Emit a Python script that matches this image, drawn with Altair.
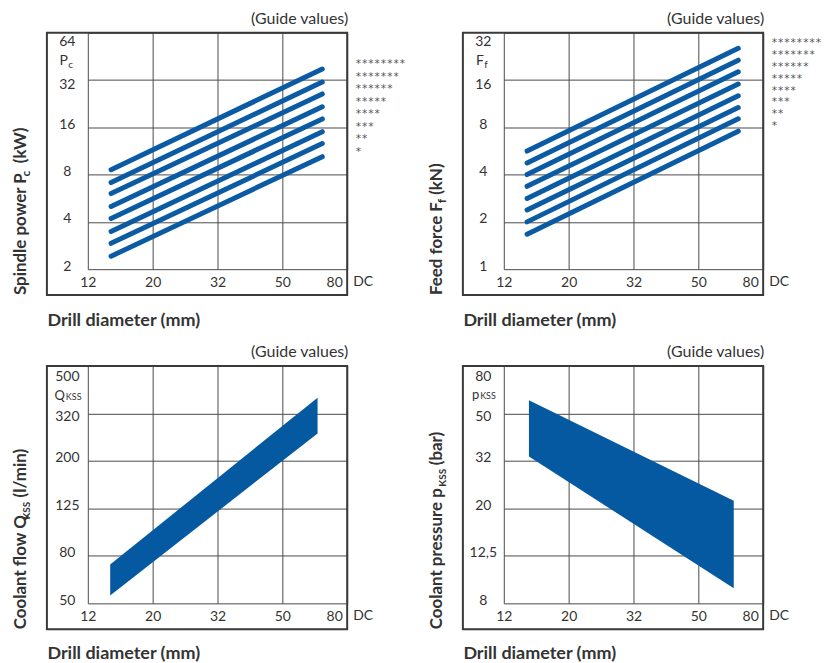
import json
import altair as alt
import pandas as pd

FONT = "Lato"
TXT = "#333333"
GRID = "#4a4a4a"
BOX = "#3a3a3a"
BLUE = "#0a5ba4"
STAR_COLOR = "#555555"

# ---------------- data ----------------
dia_ticks = [12.5, 20, 32, 51.2, 81.92]
dia_labels = ["12", "20", "32", "50", "80"]
stars = ["********", "*******", "******", "*****", "****", "***", "**", "*"]

line_dia = [14.8, 68.4]

power_ticks = [2, 4, 8, 16, 32, 64]
power_labels = ["2", "4", "8", "16", "32", "64"]
power_start = [8.6, 7.12, 6.06, 5.01, 4.21, 3.48, 2.92, 2.42]
power_end = [37.6, 31.1, 26.1, 21.6, 18.1, 15.0, 12.6, 10.4]

feed_ticks = [1, 2, 4, 8, 16, 32]
feed_labels = ["1", "2", "4", "8", "16", "32"]
feed_start = [5.65, 4.74, 4.0, 3.37, 2.82, 2.38, 2.0, 1.67]
feed_end = [25.5, 21.4, 18.06, 15.1, 12.7, 10.7, 9.06, 7.56]

flow_ticks = [50, 80, 128, 204.8, 327.68, 524.288]
flow_labels = ["50", "80", "125", "200", "320", "500"]
flow_dia = [14.7, 66.1]
flow_upper = [73.4, 383.0]
flow_lower = [54.1, 268.6]

press_ticks = [8, 12.8, 20.48, 32.768, 52.4288, 83.88608]
press_labels = ["8", "12,5", "20", "32", "50", "80"]
press_dia = [15.0, 66.2]
press_upper = [59.7, 22.1]
press_lower = [34.2, 9.3]

W = 260


def expr_labels(ticks, labels):
    return f"{json.dumps(labels)}[indexof({json.dumps(ticks)}, datum.value)]"


def x_scale():
    return alt.Scale(type="log", domain=[dia_ticks[0], dia_ticks[-1]], nice=False)


def x_enc(field, H):
    return alt.X(
        f"{field}:Q",
        scale=x_scale(),
        axis=alt.Axis(
            values=dia_ticks,
            labelExpr=expr_labels(dia_ticks, dia_labels),
            grid=True, gridColor=GRID, gridWidth=1, gridOpacity=1,
            ticks=False, tickSize=0, domain=False,
            labelPadding=13, labelBaseline="middle", labelAlign="center",
            labelFont=FONT, labelFontSize=14, labelColor=TXT,
            labelFlush=False, labelOverlap=False,
            labelOffset={"condition": {"test": f"datum.value == {dia_ticks[-1]}", "value": -13}, "value": 0},
            title="Drill diameter (mm)", titleFont=FONT, titleFontSize=18,
            titleFontWeight="bold", titleColor=TXT, titleAnchor="start",
            titleAlign="left", titleBaseline="alphabetic",
            titleX=-41, titleY=293 - H, titleAngle=0,
        ),
    )


def y_scale(ticks):
    return alt.Scale(type="log", domain=[ticks[0], ticks[-1]], nice=False)


def y_enc(field, ticks, labels, off1, off2):
    return alt.Y(
        f"{field}:Q",
        scale=y_scale(ticks),
        axis=alt.Axis(
            values=ticks,
            labelExpr=expr_labels(ticks, labels),
            grid=True, gridColor=GRID, gridWidth=1, gridOpacity=1,
            ticks=False, tickSize=0, domain=False,
            labelPadding=21, labelAlign="center", labelBaseline="middle",
            labelFont=FONT, labelFontSize=14, labelColor=TXT,
            labelFlush=False, labelOverlap=False,
            labelOffset={"condition": [
                {"test": f"datum.value == {ticks[-1]}", "value": off1},
                {"test": f"datum.value == {ticks[-2]}", "value": off2},
            ], "value": -3},
            title=None,
        ),
    )


def note(text, x, y, size=14, weight="normal", align="left", baseline="alphabetic",
         angle=0, font=FONT, color=TXT):
    return alt.Chart(pd.DataFrame({"t": [text]})).mark_text(
        align=align, baseline=baseline, angle=angle, font=font,
        fontSize=size, fontWeight=weight, color=color,
    ).encode(x=alt.value(x), y=alt.value(y), text="t:N")


def frame(H):
    return alt.Chart(pd.DataFrame({"a": [0]})).mark_rect(
        fill=None, stroke=BOX, strokeWidth=2
    ).encode(x=alt.value(-41), x2=alt.value(W), y=alt.value(0), y2=alt.value(H + 26))


def common(H):
    return [
        frame(H),
        note("(Guide values)", W + 1, -9, size=16, align="right"),
        note("DC", W + 6, H + 13, size=14, baseline="middle"),
    ]


def ytitle(main, sub, tail, sub_y, tail_y, H, sub_size=12):
    return [
        note(main, -62, H + 26, size=17, weight="bold", angle=270, align="left"),
        note(sub, -58, sub_y, size=sub_size, weight="bold", angle=270, align="left"),
        note(tail, -62, tail_y, size=17, weight="bold", angle=270, align="right"),
    ]


def lines_panel(ticks, labels, start, end, sym, sym_sub, title_parts, H):
    rows = []
    for i, (a, b) in enumerate(zip(start, end)):
        rows.append({"s": i, "d": line_dia[0], "v": a})
        rows.append({"s": i, "d": line_dia[1], "v": b})
    df = pd.DataFrame(rows)
    yenc = y_enc("v", ticks, labels, 9, 4)
    lines = alt.Chart(df).mark_line(strokeWidth=5, strokeCap="round", color=BLUE).encode(
        x=x_enc("d", H), y=yenc, detail="s:N"
    )
    sdf = pd.DataFrame({"v": end, "star": stars})
    star_layer = alt.Chart(sdf).mark_text(
        align="left", baseline="middle", dy=-5, font="DejaVu Sans Mono", fontSize=10.5,
        color=STAR_COLOR
    ).encode(
        x=alt.value(W + 8),
        y=yenc,
        text="star:N",
    )
    layers = [lines, star_layer] + common(H)
    layers += [
        note(sym, -20, 32, size=14, align="right"),
        note(sym_sub, -19.5, 35.5, size=10, align="left"),
    ]
    layers += ytitle(*title_parts, H=H)
    return alt.layer(*layers).properties(width=W, height=H)


def band_panel(ticks, labels, dia, upper, lower, sym, sym_sub, sym_x, sym_y, title_parts, H):
    df = pd.DataFrame({"d": dia, "hi": upper, "lo": lower})
    band = alt.Chart(df).mark_area(color="#0559a1", opacity=1).encode(
        x=x_enc("d", H), y=y_enc("hi", ticks, labels, 11, 3), y2="lo:Q"
    )
    layers = [band] + common(H)
    layers += [
        note(sym, sym_x, sym_y, size=13, align="right"),
        note(sym_sub, sym_x + 1, sym_y, size=9, align="left"),
    ]
    layers += ytitle(*title_parts, H=H, sub_size=10)
    return alt.layer(*layers).properties(width=W, height=H)


p1 = lines_panel(power_ticks, power_labels, power_start, power_end, "P", "c",
                 ("Spindle power P", "c", "(kW)", 144, 95), 237)
p2 = lines_panel(feed_ticks, feed_labels, feed_start, feed_end, "F", "f",
                 ("Feed force F", "f", "(kN)", 171, 131), 237)
p3 = band_panel(flow_ticks, flow_labels, flow_dia, flow_upper, flow_lower, "Q", "KSS", -23, 34.5,
                ("Coolant flow Q", "KSS", "(l/min)", 154, 83), 238)
p4 = band_panel(press_ticks, press_labels, press_dia, press_upper, press_lower, "p", "KSS", -24.7, 33,
                ("Coolant pressure p", "KSS", "(bar)", 121, 66), 238)

chart = alt.concat(p1, p2, p3, p4, columns=2, spacing={"row": 97, "column": 157}, bounds="flush").properties(
    padding={"left": 4, "top": 2, "right": 5, "bottom": 5}
).configure_view(stroke=None)

chart.save("out.html", embed_options={"renderer": "svg", "actions": False})
